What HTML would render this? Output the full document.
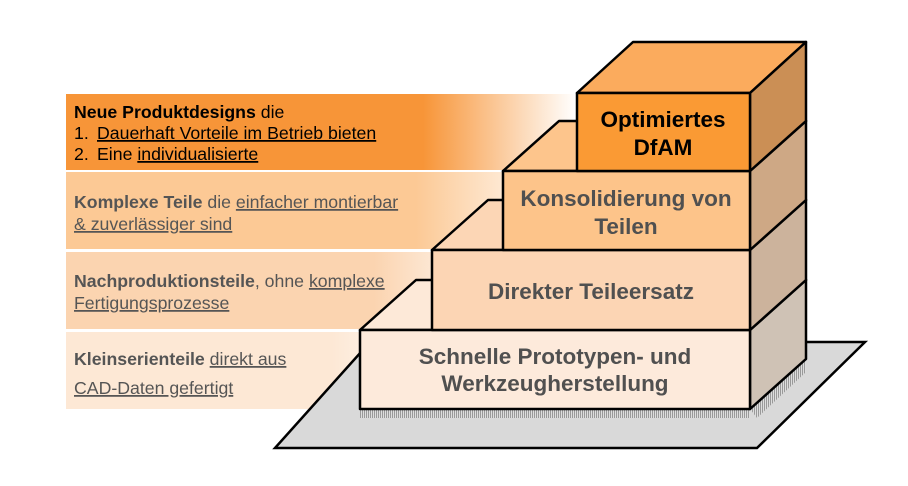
<!DOCTYPE html>
<html><head><meta charset="utf-8"><style>
body{margin:0;background:#fff;width:908px;height:486px;overflow:hidden}
svg{display:block}
text{font-family:"Liberation Sans",Arial,sans-serif}
</style></head><body>
<svg width="908" height="486" viewBox="0 0 908 486" xmlns="http://www.w3.org/2000/svg">
<defs>
<linearGradient id="g1" x1="0" x2="1"><stop offset="0" stop-color="#f79538"/><stop offset="0.7" stop-color="#f79538"/><stop offset="1" stop-color="#f79538" stop-opacity="0"/></linearGradient>
<linearGradient id="g2" x1="0" x2="1"><stop offset="0" stop-color="#fcc995"/><stop offset="0.7" stop-color="#fcc995"/><stop offset="1" stop-color="#fcc995" stop-opacity="0"/></linearGradient>
<linearGradient id="g3" x1="0" x2="1"><stop offset="0" stop-color="#fbd4b0"/><stop offset="0.7" stop-color="#fbd4b0"/><stop offset="1" stop-color="#fbd4b0" stop-opacity="0"/></linearGradient>
<linearGradient id="g4" x1="0" x2="1"><stop offset="0" stop-color="#fde8d5"/><stop offset="0.7" stop-color="#fde8d5"/><stop offset="1" stop-color="#fde8d5" stop-opacity="0"/></linearGradient>
<pattern id="hat" width="2" height="10" patternUnits="userSpaceOnUse"><rect width="1" height="10" fill="#999"/><rect x="1" width="1" height="10" fill="#ddd"/></pattern>
</defs>
<rect x="66" y="94" width="510" height="76" fill="url(#g1)"/>
<rect x="66" y="172" width="500" height="77" fill="url(#g2)"/>
<rect x="66" y="252" width="440" height="77" fill="url(#g3)"/>
<rect x="66" y="332" width="380" height="77" fill="url(#g4)"/>

<polygon points="275,448 757,448 865,342 370,342" fill="#d9d9d9" stroke="#000" stroke-width="2.5"/>
<rect x="360" y="409" width="390" height="9" fill="url(#hat)"/>
<polygon points="750,409 806,359 806,372 757,418" fill="url(#hat)"/>

<g stroke="#000" stroke-width="2.5" stroke-linejoin="round">
<polygon points="360,330 416,280 806,280 750,330" fill="#fde9d8"/>
<polygon points="750,330 806,280 806,359 750,409" fill="#cfc2b5"/>
<rect x="360" y="330" width="390" height="79" fill="#fdeadb"/>
<polygon points="432,250 488,200 806,200 750,250" fill="#fcd6b5"/>
<polygon points="750,250 806,200 806,280 750,330" fill="#ccb39c"/>
<rect x="432" y="250" width="318" height="80" fill="#fcd5b4"/>
<polygon points="503,171 559,121 806,121 750,171" fill="#fdc58c"/>
<polygon points="750,171 806,121 806,200 750,250" fill="#cea885"/>
<rect x="503" y="171" width="247" height="79" fill="#fdc48a"/>
<polygon points="577,93 633,42 806,42 750,93" fill="#fbab5d"/>
<polygon points="750,93 806,42 806,121 750,171" fill="#cb8f55"/>
<rect x="577" y="93" width="173" height="78" fill="#fa9a34"/>
</g>

<g font-weight="bold" font-size="22.5" text-anchor="middle">
<text x="663" y="127" fill="#000">Optimiertes</text>
<text x="663" y="155" fill="#000">DfAM</text>
<text x="626" y="206" fill="#505050">Konsolidierung von</text>
<text x="626" y="234" fill="#505050">Teilen</text>
<text x="591" y="299" fill="#505050">Direkter Teileersatz</text>
<text x="555" y="364" fill="#505050">Schnelle Prototypen- und</text>
<text x="555" y="391" fill="#505050">Werkzeugherstellung</text>
</g>

<g font-size="17.7">
<text x="74" y="118" fill="#000"><tspan font-weight="bold">Neue Produktdesigns</tspan> die</text>
<text x="74" y="139" fill="#000">1.<tspan x="97" text-decoration="underline">Dauerhaft Vorteile im Betrieb bieten</tspan></text>
<text x="74" y="160" fill="#000">2.<tspan x="97">Eine </tspan><tspan text-decoration="underline">individualisierte</tspan></text>
<text x="74" y="208" fill="#555"><tspan font-weight="bold">Komplexe Teile</tspan> die <tspan text-decoration="underline">einfacher montierbar</tspan></text>
<text x="74" y="230" fill="#555" text-decoration="underline">&amp; zuverlässiger sind</text>
<text x="74" y="287" fill="#555"><tspan font-weight="bold">Nachproduktionsteile</tspan>, ohne <tspan text-decoration="underline">komplexe</tspan></text>
<text x="74" y="309" fill="#555" text-decoration="underline">Fertigungsprozesse</text>
<text x="74" y="365" fill="#555"><tspan font-weight="bold">Kleinserienteile</tspan> <tspan text-decoration="underline">direkt aus</tspan></text>
<text x="74" y="394" fill="#555" text-decoration="underline">CAD-Daten gefertigt</text>
</g>
</svg>
</body></html>
